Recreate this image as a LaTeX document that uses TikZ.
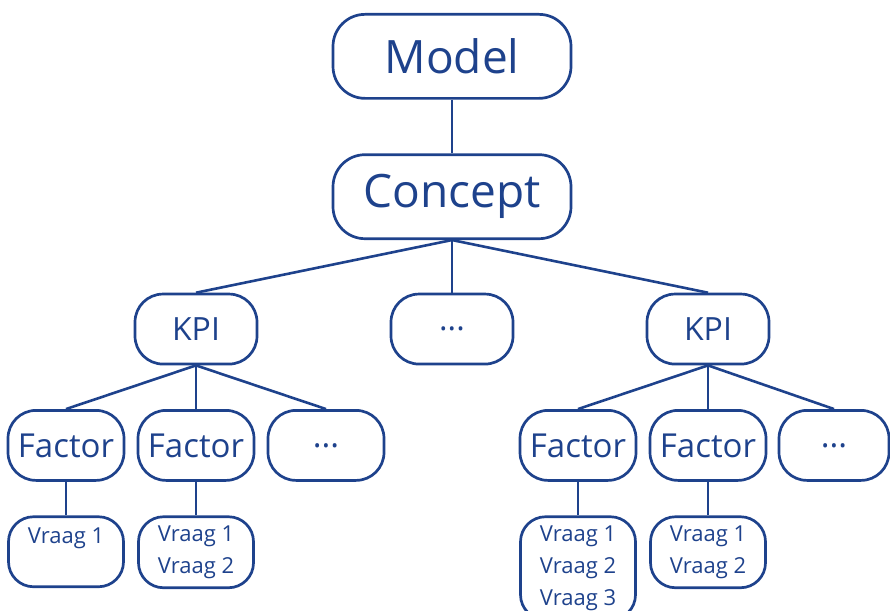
\documentclass[tikz,border=0pt]{standalone}
\usepackage{fontspec}
\setmainfont{Open Sans}
\definecolor{treeblue}{RGB}{30,66,140}

\begin{document}
\begin{tikzpicture}[
  x=1pt, y=-1pt,
  every node/.style={draw=treeblue, line width=2.7pt, text=treeblue, rounded corners=28pt,
    anchor=north, inner sep=0pt, align=center},
  edge from parent/.style={draw=treeblue, line width=2.6pt},
  parent anchor=south, child anchor=north,
  topbox/.style={minimum width=238pt, minimum height=84pt, rounded corners=32pt,
    font=\fontsize{46}{56}\selectfont},
  kpibox/.style={minimum width=122pt, minimum height=70pt, font=\fontsize{32}{40}\selectfont},
  factorbox/.style={minimum width=116pt, minimum height=70pt, font=\fontsize{33}{40}\selectfont},
  vraagbox/.style={minimum width=115pt, minimum height=70pt, inner ysep=9pt,
    rounded corners=25pt, font=\fontsize{22}{32}\selectfont},
  level 1/.style={level distance=97pt},
  level 2/.style={level distance=96pt, sibling distance=256pt},
  level 3/.style={level distance=80pt, sibling distance=130pt},
  level 4/.style={level distance=70pt}
]
\useasboundingbox (0,0) rectangle (890,610);
\node[topbox] (model) at (452,13) {Model}
  child {node[topbox] (concept) {Concept}
    child {node[kpibox] (kpil) {KPI}
      child {node[factorbox] (fll) {Factor}
        child {node[vraagbox] (vll) {Vraag 1\\\mbox{}}}
      }
      child {node[factorbox] (flm) {Factor}
        child {node[vraagbox] (vlm) {Vraag 1\\Vraag 2}}
      }
      child {node[factorbox] (flr) {...}}
    }
    child {node[kpibox] (kpim) {...}}
    child {node[kpibox] (kpir) {KPI}
      child {node[factorbox] (frl) {Factor}
        child {node[vraagbox] (vrl) {Vraag 1\\Vraag 2\\Vraag 3}}
      }
      child {node[factorbox] (frm) {Factor}
        child {node[vraagbox] (vrm) {Vraag 1\\Vraag 2}}
      }
      child {node[factorbox, minimum width=110pt, xshift=-4pt] (frr) {...}}
    }
  };
\end{tikzpicture}
\end{document}
